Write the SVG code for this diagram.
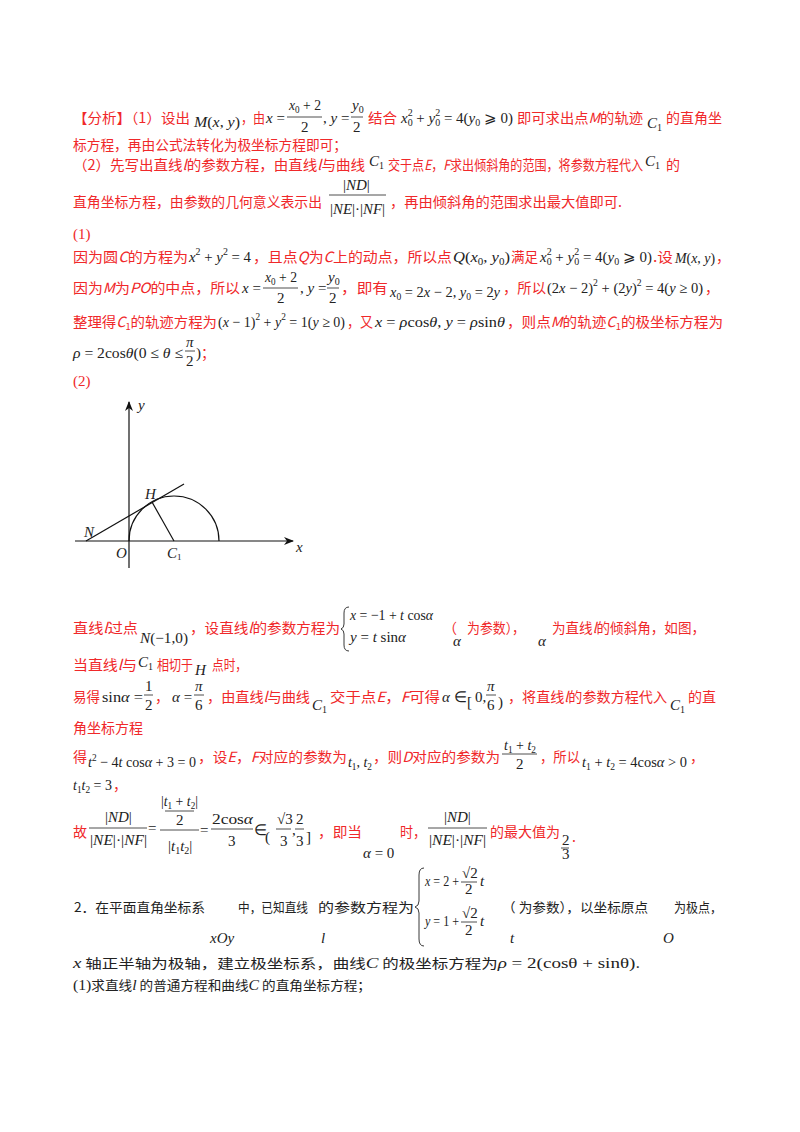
<svg xmlns="http://www.w3.org/2000/svg" width="800" height="1132" viewBox="0 0 800 1132">
<style>
.c{font-family:"Noto Sans CJK SC",sans-serif;font-size:14px;fill:#f0282a}
.k{font-family:"Noto Sans CJK SC",sans-serif;font-size:13px;fill:#222}
.m{font-family:"Liberation Serif",serif;font-size:15px;fill:#222}
.mr{font-family:"Liberation Serif",serif;font-size:15px;fill:#f0282a}
.i{font-style:italic}
.s{font-size:10px}
.fb{stroke:#222;stroke-width:0.8}
.ax{stroke:#111;stroke-width:1.2;fill:none}
</style>
<defs><marker id="ah" markerWidth="10" markerHeight="8" refX="9" refY="4" orient="auto" markerUnits="userSpaceOnUse"><path d="M0,0 L10,4 L0,8 L3,4 Z" fill="#111"/></marker></defs>

<g id="analysis">
<text class="c" x="73" y="123" textLength="117" lengthAdjust="spacingAndGlyphs">【分析】（1）设出</text>
<text class="m" x="194" y="127" font-size="13" textLength="46" lengthAdjust="spacingAndGlyphs"><tspan class="i">M</tspan>(<tspan class="i">x</tspan>, <tspan class="i">y</tspan>)</text>
<text class="c" x="241" y="123" textLength="24" lengthAdjust="spacingAndGlyphs">，由</text>
<text class="m" x="266" y="123"><tspan class="i">x</tspan> =</text>
<text class="m" x="289" y="110" textLength="32" lengthAdjust="spacingAndGlyphs"><tspan class="i">x</tspan><tspan class="s" dy="3">0</tspan><tspan dy="-3"> + 2</tspan></text>
<line class="fb" x1="287" y1="117" x2="322" y2="117"/>
<text class="m" x="301" y="132">2</text>
<text class="m" x="323" y="123">, <tspan class="i">y</tspan> =</text>
<text class="m" x="352" y="110"><tspan class="i">y</tspan><tspan class="s" dy="3">0</tspan></text>
<line class="fb" x1="351" y1="117" x2="363" y2="117"/>
<text class="m" x="353" y="132">2</text>
<text class="c" x="368" y="123" textLength="29" lengthAdjust="spacingAndGlyphs">结合</text>
<text class="m" x="401" y="123" textLength="112" lengthAdjust="spacingAndGlyphs"><tspan class="i">x</tspan><tspan class="s" dy="3">0</tspan><tspan class="s" dx="-5" dy="-10">2</tspan><tspan dy="7"> + </tspan><tspan class="i">y</tspan><tspan class="s" dy="3">0</tspan><tspan class="s" dx="-5" dy="-10">2</tspan><tspan dy="7"> = 4(</tspan><tspan class="i">y</tspan><tspan class="s" dy="3">0</tspan><tspan dy="-3"> ⩾ 0)</tspan></text>
<text class="c" x="517" y="123" textLength="126" lengthAdjust="spacingAndGlyphs">即可求出点<tspan class="i">M</tspan>的轨迹</text>
<text class="m" x="647" y="128"><tspan class="i">C</tspan><tspan class="s" dy="3">1</tspan></text>
<text class="c" x="666" y="123" textLength="56" lengthAdjust="spacingAndGlyphs">的直角坐</text>
<text class="c" x="73" y="150" textLength="274" lengthAdjust="spacingAndGlyphs">标方程，再由公式法转化为极坐标方程即可；</text>
<text class="c" x="73" y="170" textLength="292" lengthAdjust="spacingAndGlyphs">（2）先写出直线<tspan class="i">l</tspan>的参数方程，由直线<tspan class="i">l</tspan>与曲线</text>
<text class="m" x="369" y="166"><tspan class="i">C</tspan><tspan class="s" dy="3">1</tspan></text>
<text class="c" x="388" y="170" textLength="255" lengthAdjust="spacingAndGlyphs">交于点<tspan class="i">E</tspan>，<tspan class="i">F</tspan>求出倾斜角的范围，将参数方程代入</text>
<text class="m" x="645" y="166"><tspan class="i">C</tspan><tspan class="s" dy="3">1</tspan></text>
<text class="c" x="666" y="170">的</text>
<text class="c" x="73" y="207" textLength="249" lengthAdjust="spacingAndGlyphs">直角坐标方程，由参数的几何意义表示出</text>
<text class="m" x="343" y="190">|<tspan class="i">ND</tspan>|</text>
<line class="fb" x1="329" y1="195" x2="386" y2="195"/>
<text class="m" x="330" y="214" textLength="55" lengthAdjust="spacingAndGlyphs">|<tspan class="i">NE</tspan>|·|<tspan class="i">NF</tspan>|</text>
<text class="c" x="390" y="207" textLength="232" lengthAdjust="spacingAndGlyphs">，再由倾斜角的范围求出最大值即可.</text>
</g>

<g id="part1">
<text class="mr" x="73" y="239">(1)</text>
<text class="c" x="73" y="262" textLength="115" lengthAdjust="spacingAndGlyphs">因为圆<tspan class="i">C</tspan>的方程为</text>
<text class="m" x="189" y="262" textLength="62" lengthAdjust="spacingAndGlyphs"><tspan class="i">x</tspan><tspan class="s" dy="-7">2</tspan><tspan dy="7"> + </tspan><tspan class="i">y</tspan><tspan class="s" dy="-7">2</tspan><tspan dy="7"> = 4</tspan></text>
<text class="c" x="253" y="262" textLength="199" lengthAdjust="spacingAndGlyphs">，且点<tspan class="i">Q</tspan>为<tspan class="i">C</tspan>上的动点，所以点</text>
<text class="m" x="453" y="262" textLength="57" lengthAdjust="spacingAndGlyphs"><tspan class="i">Q</tspan>(<tspan class="i">x</tspan><tspan class="s" dy="3">0</tspan><tspan dy="-3">, </tspan><tspan class="i">y</tspan><tspan class="s" dy="3">0</tspan><tspan dy="-3">)</tspan></text>
<text class="c" x="511" y="262" textLength="27" lengthAdjust="spacingAndGlyphs">满足</text>
<text class="m" x="540" y="262" textLength="112" lengthAdjust="spacingAndGlyphs"><tspan class="i">x</tspan><tspan class="s" dy="3">0</tspan><tspan class="s" dx="-5" dy="-10">2</tspan><tspan dy="7"> + </tspan><tspan class="i">y</tspan><tspan class="s" dy="3">0</tspan><tspan class="s" dx="-5" dy="-10">2</tspan><tspan dy="7"> = 4(</tspan><tspan class="i">y</tspan><tspan class="s" dy="3">0</tspan><tspan dy="-3"> ⩾ 0)</tspan></text>
<text class="c" x="653" y="262" textLength="20" lengthAdjust="spacingAndGlyphs">.设</text>
<text class="m" x="675" y="263" font-size="13" textLength="40" lengthAdjust="spacingAndGlyphs"><tspan class="i">M</tspan>(<tspan class="i">x</tspan>, <tspan class="i">y</tspan>)</text>
<text class="c" x="716" y="262">，</text>

<text class="c" x="73" y="293" textLength="167" lengthAdjust="spacingAndGlyphs">因为<tspan class="i">M</tspan>为<tspan class="i">PO</tspan>的中点，所以</text>
<text class="m" x="242" y="293"><tspan class="i">x</tspan> =</text>
<text class="m" x="265" y="282" textLength="32" lengthAdjust="spacingAndGlyphs"><tspan class="i">x</tspan><tspan class="s" dy="3">0</tspan><tspan dy="-3"> + 2</tspan></text>
<line class="fb" x1="263" y1="288" x2="298" y2="288"/>
<text class="m" x="277" y="303">2</text>
<text class="m" x="300" y="293">, <tspan class="i">y</tspan> =</text>
<text class="m" x="328" y="282"><tspan class="i">y</tspan><tspan class="s" dy="3">0</tspan></text>
<line class="fb" x1="327" y1="288" x2="339" y2="288"/>
<text class="m" x="329" y="303">2</text>
<text class="c" x="341" y="293" textLength="47" lengthAdjust="spacingAndGlyphs">，即有</text>
<text class="m" x="390" y="297" font-size="14" textLength="110" lengthAdjust="spacingAndGlyphs"><tspan class="i">x</tspan><tspan class="s" dy="3">0</tspan><tspan dy="-3"> = 2</tspan><tspan class="i">x</tspan> − 2, <tspan class="i">y</tspan><tspan class="s" dy="3">0</tspan><tspan dy="-3"> = 2</tspan><tspan class="i">y</tspan></text>
<text class="c" x="503" y="293" textLength="43" lengthAdjust="spacingAndGlyphs">，所以</text>
<text class="m" x="547" y="293" textLength="156" lengthAdjust="spacingAndGlyphs">(2<tspan class="i">x</tspan> − 2)<tspan class="s" dy="-7">2</tspan><tspan dy="7"> + (2</tspan><tspan class="i">y</tspan>)<tspan class="s" dy="-7">2</tspan><tspan dy="7"> = 4(</tspan><tspan class="i">y</tspan> ≥ 0)</text>
<text class="c" x="705" y="293">，</text>

<text class="c" x="73" y="327" textLength="144" lengthAdjust="spacingAndGlyphs">整理得<tspan class="i">C</tspan><tspan font-size="9" dy="3">1</tspan><tspan dy="-3">的轨迹方程为</tspan></text>
<text class="m" x="218" y="327" textLength="127" lengthAdjust="spacingAndGlyphs">(<tspan class="i">x</tspan> − 1)<tspan class="s" dy="-7">2</tspan><tspan dy="7"> + </tspan><tspan class="i">y</tspan><tspan class="s" dy="-7">2</tspan><tspan dy="7"> = 1(</tspan><tspan class="i">y</tspan> ≥ 0)</text>
<text class="c" x="347" y="327" textLength="26" lengthAdjust="spacingAndGlyphs">，又</text>
<text class="m" x="375" y="327" textLength="130" lengthAdjust="spacingAndGlyphs"><tspan class="i">x</tspan> = <tspan class="i">ρ</tspan>cos<tspan class="i">θ</tspan>, <tspan class="i">y</tspan> = <tspan class="i">ρ</tspan>sin<tspan class="i">θ</tspan></text>
<text class="c" x="507" y="327" textLength="216" lengthAdjust="spacingAndGlyphs">，则点<tspan class="i">M</tspan>的轨迹<tspan class="i">C</tspan><tspan font-size="9" dy="3">1</tspan><tspan dy="-3">的极坐标方程为</tspan></text>

<text class="m" x="73" y="358" textLength="110" lengthAdjust="spacingAndGlyphs"><tspan class="i">ρ</tspan> = 2cos<tspan class="i">θ</tspan>(0 ≤ <tspan class="i">θ</tspan> ≤</text>
<text class="m i" x="186" y="347">π</text>
<line class="fb" x1="185" y1="351" x2="195" y2="351"/>
<text class="m" x="186" y="366">2</text>
<text class="m" x="196" y="358">)</text>
<text class="c" x="201" y="358">；</text>
<text class="mr" x="73" y="386">(2)</text>
</g>

<g id="figure">
<line class="ax" x1="75" y1="541" x2="293" y2="541" marker-end="url(#ah)"/>
<line class="ax" x1="129" y1="568" x2="129" y2="402" marker-end="url(#ah)"/>
<path class="ax" d="M129,541 A45,45 0 0 1 219,541"/>
<line class="ax" x1="86" y1="541" x2="184" y2="484"/>
<line class="ax" x1="152" y1="502" x2="174" y2="541"/>
<text class="m i" x="138" y="410" font-size="13">y</text>
<text class="m i" x="296" y="552" font-size="13">x</text>
<text class="m i" x="84" y="537" font-size="13">N</text>
<text class="m i" x="145" y="499" font-size="13">H</text>
<text class="m i" x="116" y="558" font-size="13">O</text>
<text class="m" x="167" y="558" font-size="13"><tspan class="i">C</tspan><tspan font-size="9" dy="2">1</tspan></text>
</g>

<g id="part2">
<text class="c" x="73" y="633" textLength="65" lengthAdjust="spacingAndGlyphs">直线<tspan class="i">l</tspan>过点</text>
<text class="m" x="140" y="643" textLength="48" lengthAdjust="spacingAndGlyphs"><tspan class="i">N</tspan>(−1,0)</text>
<text class="c" x="190" y="633" textLength="150" lengthAdjust="spacingAndGlyphs">，设直线<tspan class="i">l</tspan>的参数方程为</text>
<path d="M349,607 Q344,607 344,613 L344,624 Q344,628 341,629 Q344,630 344,634 L344,645 Q344,651 349,651" fill="none" stroke="#222" stroke-width="0.9"/>
<text class="m" x="350" y="620" textLength="83" lengthAdjust="spacingAndGlyphs"><tspan class="i">x</tspan> = −1 + <tspan class="i">t</tspan> cos<tspan class="i">α</tspan></text>
<text class="m" x="350" y="642"><tspan class="i">y</tspan> = <tspan class="i">t</tspan> sin<tspan class="i">α</tspan></text>
<text class="c" x="443" y="633">（</text>
<text class="m i" x="453" y="646">α</text>
<text class="c" x="467" y="633" textLength="58" lengthAdjust="spacingAndGlyphs">为参数），</text>
<text class="m i" x="538" y="646">α</text>
<text class="c" x="552" y="633" textLength="153" lengthAdjust="spacingAndGlyphs">为直线<tspan class="i">l</tspan>的倾斜角，如图，</text>

<text class="c" x="73" y="670" textLength="64" lengthAdjust="spacingAndGlyphs">当直线<tspan class="i">l</tspan>与</text>
<text class="m" x="138" y="667"><tspan class="i">C</tspan><tspan class="s" dy="3">1</tspan></text>
<text class="c" x="157" y="670" textLength="36" lengthAdjust="spacingAndGlyphs">相切于</text>
<text class="m i" x="195" y="675" font-size="13">H</text>
<text class="c" x="212" y="670" textLength="35" lengthAdjust="spacingAndGlyphs">点时，</text>

<text class="c" x="73" y="702" textLength="27" lengthAdjust="spacingAndGlyphs">易得</text>
<text class="m" x="102" y="702" textLength="41" lengthAdjust="spacingAndGlyphs">sin<tspan class="i">α</tspan> =</text>
<text class="m" x="145" y="691">1</text>
<line class="fb" x1="144" y1="695" x2="153" y2="695"/>
<text class="m" x="145" y="710">2</text>
<text class="c" x="155" y="702">，</text>
<text class="m" x="172" y="702"><tspan class="i">α</tspan> =</text>
<text class="m i" x="195" y="691">π</text>
<line class="fb" x1="194" y1="695" x2="204" y2="695"/>
<text class="m" x="195" y="710">6</text>
<text class="c" x="207" y="702" textLength="103" lengthAdjust="spacingAndGlyphs">，由直线<tspan class="i">l</tspan>与曲线</text>
<text class="m" x="312" y="710"><tspan class="i">C</tspan><tspan class="s" dy="3">1</tspan></text>
<text class="c" x="330" y="702" textLength="110" lengthAdjust="spacingAndGlyphs">交于点<tspan class="i">E</tspan>，<tspan class="i">F</tspan>可得</text>
<text class="m" x="442" y="702"><tspan class="i">α</tspan> ∈</text>
<text class="m" x="467" y="707" font-size="26">[</text>
<text class="m" x="475" y="702">0,</text>
<text class="m i" x="487" y="691">π</text>
<line class="fb" x1="486" y1="695" x2="496" y2="695"/>
<text class="m" x="487" y="710">6</text>
<text class="m" x="498" y="707" font-size="26">)</text>
<text class="c" x="508" y="702" textLength="159" lengthAdjust="spacingAndGlyphs">，将直线<tspan class="i">l</tspan>的参数方程代入</text>
<text class="m" x="670" y="710"><tspan class="i">C</tspan><tspan class="s" dy="3">1</tspan></text>
<text class="c" x="688" y="702" textLength="28" lengthAdjust="spacingAndGlyphs">的直</text>
<text class="c" x="73" y="733" textLength="70" lengthAdjust="spacingAndGlyphs">角坐标方程</text>

<text class="c" x="73" y="762">得</text>
<text class="m" x="88" y="767" font-size="14" textLength="108" lengthAdjust="spacingAndGlyphs"><tspan class="i">t</tspan><tspan class="s" dy="-6">2</tspan><tspan dy="6"> − 4</tspan><tspan class="i">t</tspan> cos<tspan class="i">α</tspan> + 3 = 0</text>
<text class="c" x="198" y="762" textLength="149" lengthAdjust="spacingAndGlyphs">，设<tspan class="i">E</tspan>，<tspan class="i">F</tspan>对应的参数为</text>
<text class="m" x="348" y="767" font-size="14" textLength="24" lengthAdjust="spacingAndGlyphs"><tspan class="i">t</tspan><tspan class="s" dy="3">1</tspan><tspan dy="-3">, </tspan><tspan class="i">t</tspan><tspan class="s" dy="3">2</tspan></text>
<text class="c" x="373" y="762" textLength="127" lengthAdjust="spacingAndGlyphs">，则<tspan class="i">D</tspan>对应的参数为</text>
<text class="m" x="504" y="750" font-size="14" textLength="32" lengthAdjust="spacingAndGlyphs"><tspan class="i">t</tspan><tspan class="s" dy="3">1</tspan><tspan dy="-3"> + </tspan><tspan class="i">t</tspan><tspan class="s" dy="3">2</tspan></text>
<line class="fb" x1="502" y1="754" x2="537" y2="754"/>
<text class="m" x="516" y="769">2</text>
<text class="c" x="540" y="762" textLength="40" lengthAdjust="spacingAndGlyphs">，所以</text>
<text class="m" x="582" y="767" font-size="14" textLength="105" lengthAdjust="spacingAndGlyphs"><tspan class="i">t</tspan><tspan class="s" dy="3">1</tspan><tspan dy="-3"> + </tspan><tspan class="i">t</tspan><tspan class="s" dy="3">2</tspan><tspan dy="-3"> = 4cos</tspan><tspan class="i">α</tspan> &gt; 0</text>
<text class="c" x="690" y="762">，</text>
<text class="m" x="73" y="790" textLength="39" lengthAdjust="spacingAndGlyphs"><tspan class="i">t</tspan><tspan class="s" dy="3">1</tspan><tspan class="i" dy="-3">t</tspan><tspan class="s" dy="3">2</tspan><tspan dy="-3"> = 3</tspan></text>
<text class="c" x="113" y="790">，</text>

<text class="c" x="73" y="837">故</text>
<text class="m" x="105" y="822">|<tspan class="i">ND</tspan>|</text>
<line class="fb" x1="89" y1="828" x2="147" y2="828"/>
<text class="m" x="90" y="845" textLength="57" lengthAdjust="spacingAndGlyphs">|<tspan class="i">NE</tspan>|·|<tspan class="i">NF</tspan>|</text>
<text class="m" x="148" y="833">=</text>
<text class="m" x="161" y="806" textLength="37" lengthAdjust="spacingAndGlyphs">|<tspan class="i">t</tspan><tspan class="s" dy="3">1</tspan><tspan dy="-3"> + </tspan><tspan class="i">t</tspan><tspan class="s" dy="3">2</tspan><tspan dy="-3">|</tspan></text>
<line class="fb" x1="165" y1="811" x2="194" y2="811" stroke-width="0.5"/>
<text class="m" x="176" y="825">2</text>
<line class="fb" x1="160" y1="830" x2="199" y2="830"/>
<text class="m" x="168" y="851"><tspan>|</tspan><tspan class="i">t</tspan><tspan class="s" dy="3">1</tspan><tspan class="i" dy="-3">t</tspan><tspan class="s" dy="3">2</tspan><tspan dy="-3">|</tspan></text>
<text class="m" x="200" y="835">=</text>
<text class="m" x="212" y="824" textLength="41" lengthAdjust="spacingAndGlyphs">2cos<tspan class="i">α</tspan></text>
<line class="fb" x1="211" y1="829" x2="253" y2="829"/>
<text class="m" x="228" y="846">3</text>
<text class="m" x="254" y="835">∈</text>
<text class="m" x="265" y="842" font-size="32">(</text>
<text class="m" x="277" y="824" font-size="14">√3</text>
<line class="fb" x1="276" y1="829" x2="291" y2="829"/>
<text class="m" x="280" y="846" font-size="14">3</text>
<text class="m" x="292" y="835">,</text>
<text class="m" x="296" y="824" font-size="14">2</text>
<line class="fb" x1="295" y1="829" x2="304" y2="829"/>
<text class="m" x="296" y="846" font-size="14">3</text>
<text class="m" x="306" y="842" font-size="32">]</text>
<text class="c" x="318" y="837" textLength="44" lengthAdjust="spacingAndGlyphs">，即当</text>
<text class="m" x="363" y="858"><tspan class="i">α</tspan> = 0</text>
<text class="c" x="400" y="837" textLength="26" lengthAdjust="spacingAndGlyphs">时，</text>
<text class="m" x="444" y="822">|<tspan class="i">ND</tspan>|</text>
<line class="fb" x1="428" y1="828" x2="487" y2="828"/>
<text class="m" x="429" y="845" textLength="57" lengthAdjust="spacingAndGlyphs">|<tspan class="i">NE</tspan>|·|<tspan class="i">NF</tspan>|</text>
<text class="c" x="490" y="837" textLength="70" lengthAdjust="spacingAndGlyphs">的最大值为</text>
<text class="m" x="562" y="845" font-size="12">2</text>
<line class="fb" x1="561" y1="848" x2="569" y2="848"/>
<text class="m" x="562" y="859" font-size="12">3</text>
<text class="c" x="572" y="842">.</text>
</g>

<g id="question">
<text class="k" x="74" y="912" textLength="131" lengthAdjust="spacingAndGlyphs">2．在平面直角坐标系</text>
<text class="k" x="238" y="912" textLength="70" lengthAdjust="spacingAndGlyphs">中，已知直线</text>
<text class="k" x="318" y="912" textLength="96" lengthAdjust="spacingAndGlyphs">的参数方程为</text>
<text class="m i" x="210" y="943" font-size="14">xOy</text>
<text class="m i" x="321" y="943" font-size="14">l</text>
<path d="M424,868 Q419,868 419,875 L419,901 Q419,906 415,907 Q419,908 419,913 L419,939 Q419,946 424,946" fill="none" stroke="#222" stroke-width="0.9"/>
<text class="m" x="425" y="886" font-size="13" textLength="34" lengthAdjust="spacingAndGlyphs"><tspan class="i">x</tspan> = 2 +</text>
<text class="m" x="462" y="878" font-size="12">√2</text>
<line class="fb" x1="461" y1="882" x2="477" y2="882"/>
<text class="m" x="465" y="894" font-size="12">2</text>
<text class="m i" x="480" y="886" font-size="13">t</text>
<text class="m" x="425" y="926" font-size="13" textLength="34" lengthAdjust="spacingAndGlyphs"><tspan class="i">y</tspan> = 1 +</text>
<text class="m" x="462" y="918" font-size="12">√2</text>
<line class="fb" x1="461" y1="922" x2="477" y2="922"/>
<text class="m" x="465" y="935" font-size="12">2</text>
<text class="m i" x="480" y="926" font-size="13">t</text>
<text class="k" x="502" y="912" textLength="146" lengthAdjust="spacingAndGlyphs">（   为参数），以坐标原点</text>
<text class="k" x="674" y="912" textLength="48" lengthAdjust="spacingAndGlyphs">为极点，</text>
<text class="m i" x="510" y="943" font-size="14">t</text>
<text class="m i" x="663" y="943" font-size="14">O</text>
<text class="k" x="73" y="968" textLength="567" lengthAdjust="spacingAndGlyphs"><tspan class="m i" font-size="14">x</tspan> 轴正半轴为极轴，建立极坐标系，曲线<tspan class="m i" font-size="15">C</tspan> 的极坐标方程为<tspan class="m" font-size="14"><tspan class="i">ρ</tspan> = 2(cosθ + sinθ)</tspan>.</text>
<text class="k" x="73" y="990" textLength="298" lengthAdjust="spacingAndGlyphs"><tspan class="m" font-size="14">(1)</tspan>求直线<tspan class="m i" font-size="15">l</tspan> 的普通方程和曲线<tspan class="m i" font-size="15">C</tspan> 的直角坐标方程；</text>
</g>
</svg>
